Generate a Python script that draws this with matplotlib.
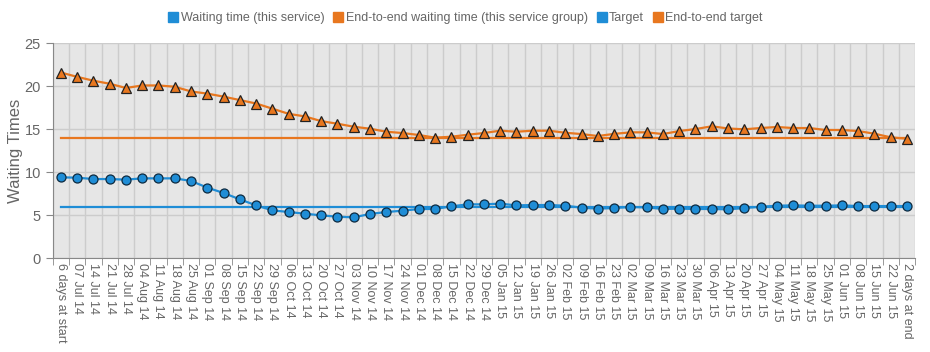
import matplotlib
matplotlib.use("Agg")
import matplotlib.pyplot as plt
import numpy as np

plt.rcParams["font.family"] = ["Liberation Sans", "DejaVu Sans"]

# x categories: start stub, weekly snapshots, end stub
labels = ["6 days at start",
          "07 Jul 14", "14 Jul 14", "21 Jul 14", "28 Jul 14", "04 Aug 14", "11 Aug 14",
          "18 Aug 14", "25 Aug 14", "01 Sep 14", "08 Sep 14", "15 Sep 14", "22 Sep 14",
          "29 Sep 14", "06 Oct 14", "13 Oct 14", "20 Oct 14", "27 Oct 14", "03 Nov 14",
          "10 Nov 14", "17 Nov 14", "24 Nov 14", "01 Dec 14", "08 Dec 14", "15 Dec 14",
          "22 Dec 14", "29 Dec 14", "05 Jan 15", "12 Jan 15", "19 Jan 15", "26 Jan 15",
          "02 Feb 15", "09 Feb 15", "16 Feb 15", "23 Feb 15", "02 Mar 15", "09 Mar 15",
          "16 Mar 15", "23 Mar 15", "30 Mar 15", "06 Apr 15", "13 Apr 15", "20 Apr 15",
          "27 Apr 15", "04 May 15", "11 May 15", "18 May 15", "25 May 15", "01 Jun 15",
          "08 Jun 15", "15 Jun 15", "22 Jun 15",
          "2 days at end"]

waiting = [9.42, 9.38, 9.22, 9.22, 9.15, 9.30, 9.30, 9.30, 9.00, 8.22,
           7.60, 6.86, 6.16, 5.58, 5.39, 5.19, 5.00, 4.84, 4.77, 5.16,
           5.39, 5.54, 5.74, 5.74, 6.05, 6.28, 6.28, 6.36, 6.16, 6.20,
           6.20, 6.12, 5.89, 5.78, 5.85, 5.97, 5.93, 5.74, 5.78, 5.74,
           5.74, 5.70, 5.85, 6.00, 6.12, 6.16, 6.12, 6.12, 6.16, 6.08,
           6.08, 6.08, 6.08]

end_to_end = [21.6, 21.1, 20.65, 20.3, 19.8, 20.1, 20.1, 19.95, 19.4, 19.15,
              18.8, 18.4, 18.0, 17.4, 16.8, 16.5, 15.95, 15.65, 15.3, 15.07,
              14.72, 14.57, 14.34, 14.03, 14.14, 14.37, 14.57, 14.84, 14.72, 14.84,
              14.84, 14.6, 14.45, 14.22, 14.47, 14.65, 14.65, 14.45, 14.8, 15.03,
              15.35, 15.1, 15.0, 15.15, 15.27, 15.15, 15.15, 14.92, 14.92, 14.8,
              14.49, 14.07, 13.9]

target = 6
end_to_end_target = 14

BLUE = "#1f8dd6"
ORANGE = "#e8771f"
GREY = "#666666"

x = np.arange(len(labels))

fig = plt.figure(figsize=(9.3, 3.52), dpi=100)
ax = fig.add_axes([0.0567, 0.266, 0.9273, 0.611])
ax.set_facecolor("#e6e6e6")

ax.plot(x, [target] * len(x), color=BLUE, lw=1.6, zorder=2)
ax.plot(x, [end_to_end_target] * len(x), color=ORANGE, lw=1.6, zorder=2)
ax.plot(x, waiting, color=BLUE, lw=1.6, marker="o", ms=6.5,
        mfc=BLUE, mec="#0d2a40", mew=0.9, zorder=3)
ax.plot(x, end_to_end, color=ORANGE, lw=1.6, marker="^", ms=6.5,
        mfc=ORANGE, mec="#222222", mew=0.9, zorder=3)

ax.set_xlim(-0.5, len(x) - 0.5)
ax.set_ylim(0, 25)
ax.set_yticks([0, 5, 10, 15, 20, 25])
ax.set_xticks(x)
ax.set_xticklabels(labels, rotation=270, fontsize=9, color=GREY)
ax.set_xticks(np.arange(len(x) + 1) - 0.5, minor=True)
ax.tick_params(axis="x", which="major", length=0, pad=3)
ax.tick_params(axis="x", which="minor", length=5, color="#888888")
ax.tick_params(axis="y", length=5, color="#888888", labelsize=10.5, labelcolor=GREY)

ax.grid(True, which="minor", axis="x", color="#cccccc", lw=1)
ax.grid(True, which="major", axis="y", color="#cccccc", lw=1)
ax.set_axisbelow(True)

for side in ["top", "right"]:
    ax.spines[side].set_visible(False)
ax.spines["left"].set_color("#888888")
ax.spines["bottom"].set_color("#888888")

ax.set_ylabel("Waiting Times", fontsize=12, color=GREY)
ax.yaxis.set_label_coords(-0.0345, 0.5)

handles = [plt.Line2D([], [], ls="", marker="s", ms=6.5, color=c)
           for c in [BLUE, ORANGE, BLUE, ORANGE]]
names = ["Waiting time (this service)", "End-to-end waiting time (this service group)",
         "Target", "End-to-end target"]
fig.legend(handles, names, loc="center", bbox_to_anchor=(0.5, 0.948), ncol=4,
           frameon=False, fontsize=9, labelcolor=GREY, handletextpad=0.1,
           columnspacing=0.6, handlelength=1)

fig.savefig("out.png", dpi=100)
